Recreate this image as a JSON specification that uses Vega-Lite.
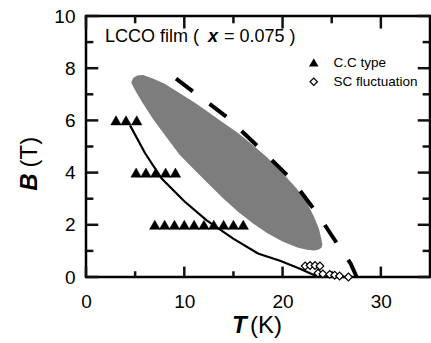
{
  "$schema": "https://vega.github.io/schema/vega-lite/v6.json",
  "width": 344,
  "height": 261,
  "autosize": {"type": "none"},
  "padding": {"left": 86, "top": 16, "right": 1, "bottom": 66},
  "background": "white",
  "config": {
    "view": {"stroke": "black", "strokeWidth": 2.5},
    "font": "Liberation Sans",
    "axis": {"domain": false, "grid": false, "ticks": false, "tickSize": 0, "labelColor": "black", "labelFont": "Liberation Sans", "labelFontSize": 19, "labelFlush": false, "labelOverlap": false, "title": null}
  },
  "datasets": {
    "ellipse": [
      {"T": 4.6, "hi": 7.45, "lo": 7.45},
      {"T": 4.8, "hi": 7.62, "lo": 7.3},
      {"T": 5.2, "hi": 7.72, "lo": 7.02},
      {"T": 5.8, "hi": 7.74, "lo": 6.65},
      {"T": 6.8, "hi": 7.61, "lo": 6.06},
      {"T": 8.0, "hi": 7.4, "lo": 5.45},
      {"T": 9.5, "hi": 7.05, "lo": 4.69},
      {"T": 11.0, "hi": 6.7, "lo": 4.12},
      {"T": 12.5, "hi": 6.3, "lo": 3.55},
      {"T": 14.0, "hi": 5.9, "lo": 3.0},
      {"T": 15.5, "hi": 5.51, "lo": 2.49},
      {"T": 17.0, "hi": 5.05, "lo": 2.05},
      {"T": 18.5, "hi": 4.56, "lo": 1.67},
      {"T": 20.0, "hi": 3.98, "lo": 1.36},
      {"T": 21.5, "hi": 3.36, "lo": 1.13},
      {"T": 22.5, "hi": 2.83, "lo": 1.04},
      {"T": 23.2, "hi": 2.31, "lo": 1.02},
      {"T": 23.7, "hi": 1.85, "lo": 1.05},
      {"T": 23.95, "hi": 1.45, "lo": 1.12},
      {"T": 24.05, "hi": 1.25, "lo": 1.25}
    ],
    "dash": [
      {"T": 9.16, "B": 7.6},
      {"T": 12.54, "B": 6.64},
      {"T": 14.31, "B": 6.13},
      {"T": 17.5, "B": 5.0},
      {"T": 20.93, "B": 3.73},
      {"T": 23.53, "B": 2.43},
      {"T": 25.67, "B": 1.21},
      {"T": 26.93, "B": 0.51},
      {"T": 27.54, "B": 0.0}
    ],
    "solid": [
      {"T": 4.48, "B": 5.81},
      {"T": 6.0, "B": 4.75},
      {"T": 7.7, "B": 3.77},
      {"T": 10.0, "B": 2.9},
      {"T": 12.28, "B": 2.17},
      {"T": 14.98, "B": 1.47},
      {"T": 17.5, "B": 0.9},
      {"T": 19.74, "B": 0.62},
      {"T": 21.77, "B": 0.32},
      {"T": 22.79, "B": 0.14},
      {"T": 23.5, "B": 0.03}
    ],
    "cc": [
      {"T": 3.05, "B": 6, "series": "C.C type"},
      {"T": 4.07, "B": 6, "series": "C.C type"},
      {"T": 5.16, "B": 6, "series": "C.C type"},
      {"T": 5.1, "B": 4, "series": "C.C type"},
      {"T": 6.1, "B": 4, "series": "C.C type"},
      {"T": 7.1, "B": 4, "series": "C.C type"},
      {"T": 8.1, "B": 4, "series": "C.C type"},
      {"T": 9.1, "B": 4, "series": "C.C type"},
      {"T": 7, "B": 2, "series": "C.C type"},
      {"T": 8, "B": 2, "series": "C.C type"},
      {"T": 9, "B": 2, "series": "C.C type"},
      {"T": 10, "B": 2, "series": "C.C type"},
      {"T": 11, "B": 2, "series": "C.C type"},
      {"T": 12, "B": 2, "series": "C.C type"},
      {"T": 13, "B": 2, "series": "C.C type"},
      {"T": 14, "B": 2, "series": "C.C type"},
      {"T": 15, "B": 2, "series": "C.C type"},
      {"T": 16, "B": 2, "series": "C.C type"}
    ],
    "sc": [
      {"T": 22.3, "B": 0.42, "series": "SC fluctuation"},
      {"T": 22.8, "B": 0.44, "series": "SC fluctuation"},
      {"T": 23.3, "B": 0.44, "series": "SC fluctuation"},
      {"T": 23.8, "B": 0.42, "series": "SC fluctuation"},
      {"T": 23.6, "B": 0.15, "series": "SC fluctuation"},
      {"T": 24.1, "B": 0.12, "series": "SC fluctuation"},
      {"T": 24.8, "B": 0.1, "series": "SC fluctuation"},
      {"T": 25.3, "B": 0.07, "series": "SC fluctuation"},
      {"T": 25.8, "B": 0.04, "series": "SC fluctuation"},
      {"T": 26.7, "B": 0.0, "series": "SC fluctuation"}
    ],
    "xMajor": [{"T": 0}, {"T": 10}, {"T": 20}, {"T": 30}],
    "xMinor": [{"T": 5}, {"T": 15}, {"T": 25}],
    "yMajor": [{"B": 0}, {"B": 2}, {"B": 4}, {"B": 6}, {"B": 8}, {"B": 10}],
    "yMinor": [{"B": 1}, {"B": 3}, {"B": 5}, {"B": 7}, {"B": 9}],
    "titleNormal": [
      {"T": 1.93, "B": 9.0, "label": "LCCO film ("},
      {"T": 14.04, "B": 9.0, "label": "= 0.075 )"}
    ],
    "titleX": [{"T": 12.41, "B": 9.0, "label": "x"}],
    "xTitleBold": [{"T": 16.34, "B": -2.16, "label": "T"}],
    "xTitleNormal": [{"T": 16.68, "B": -2.16, "label": "(K)"}],
    "yTitleBold": [{"T": -5.02, "B": 3.97, "label": "B"}],
    "yTitleNormal": [{"T": -5.02, "B": 4.2, "label": "(T)"}]
  },
  "layer": [
    {
      "data": {"name": "ellipse"},
      "mark": {"type": "area", "fill": "#7d7d7d", "stroke": null, "orient": "vertical"},
      "encoding": {
        "x": {"field": "T", "type": "quantitative", "scale": {"domain": [0, 35], "nice": false, "zero": false},
          "axis": {"orient": "bottom", "values": [0, 10, 20, 30], "labelPadding": 15}},
        "y": {"field": "hi", "type": "quantitative", "scale": {"domain": [0, 10], "nice": false, "zero": false},
          "axis": {"orient": "left", "values": [0, 2, 4, 6, 8, 10], "labelPadding": 11}},
        "y2": {"field": "lo"}
      }
    },
    {
      "data": {"name": "xMajor"},
      "mark": {"type": "rule", "color": "#111111", "strokeWidth": 2.5, "clip": false},
      "encoding": {
        "x": {"field": "T", "type": "quantitative", "axis": null},
        "y": {"datum": 0, "type": "quantitative", "axis": null},
        "y2": {"datum": 0.4}
      }
    },
    {
      "data": {"name": "xMajor"},
      "mark": {"type": "rule", "color": "#111111", "strokeWidth": 2.5, "clip": false},
      "encoding": {
        "x": {"field": "T", "type": "quantitative", "axis": null},
        "y": {"datum": 10, "type": "quantitative", "axis": null},
        "y2": {"datum": 9.52}
      }
    },
    {
      "data": {"name": "xMinor"},
      "mark": {"type": "rule", "color": "#111111", "strokeWidth": 2.5, "clip": false},
      "encoding": {
        "x": {"field": "T", "type": "quantitative", "axis": null},
        "y": {"datum": 0, "type": "quantitative", "axis": null},
        "y2": {"datum": 0.22}
      }
    },
    {
      "data": {"name": "xMinor"},
      "mark": {"type": "rule", "color": "#111111", "strokeWidth": 2.5, "clip": false},
      "encoding": {
        "x": {"field": "T", "type": "quantitative", "axis": null},
        "y": {"datum": 10, "type": "quantitative", "axis": null},
        "y2": {"datum": 9.72}
      }
    },
    {
      "data": {"name": "yMajor"},
      "mark": {"type": "rule", "color": "#111111", "strokeWidth": 2.5, "clip": false},
      "encoding": {
        "y": {"field": "B", "type": "quantitative", "axis": null},
        "x": {"datum": 0, "type": "quantitative", "axis": null},
        "x2": {"datum": 1.25}
      }
    },
    {
      "data": {"name": "yMajor"},
      "mark": {"type": "rule", "color": "#111111", "strokeWidth": 2.5, "clip": false},
      "encoding": {
        "y": {"field": "B", "type": "quantitative", "axis": null},
        "x": {"datum": 35, "type": "quantitative", "axis": null},
        "x2": {"datum": 33.75}
      }
    },
    {
      "data": {"name": "yMinor"},
      "mark": {"type": "rule", "color": "#111111", "strokeWidth": 2.5, "clip": false},
      "encoding": {
        "y": {"field": "B", "type": "quantitative", "axis": null},
        "x": {"datum": 0, "type": "quantitative", "axis": null},
        "x2": {"datum": 0.75}
      }
    },
    {
      "data": {"name": "yMinor"},
      "mark": {"type": "rule", "color": "#111111", "strokeWidth": 2.5, "clip": false},
      "encoding": {
        "y": {"field": "B", "type": "quantitative", "axis": null},
        "x": {"datum": 35, "type": "quantitative", "axis": null},
        "x2": {"datum": 34.25}
      }
    },
    {
      "data": {"name": "dash"},
      "mark": {"type": "line", "stroke": "black", "strokeWidth": 4, "strokeDash": [21, 21]},
      "encoding": {
        "x": {"field": "T", "type": "quantitative", "axis": null},
        "y": {"field": "B", "type": "quantitative", "axis": null}
      }
    },
    {
      "data": {"name": "solid"},
      "mark": {"type": "line", "stroke": "black", "strokeWidth": 2.2},
      "encoding": {
        "x": {"field": "T", "type": "quantitative", "axis": null},
        "y": {"field": "B", "type": "quantitative", "axis": null}
      }
    },
    {
      "data": {"name": "cc"},
      "mark": {"type": "point", "size": 110, "strokeWidth": 0.5, "opacity": 1},
      "encoding": {
        "x": {"field": "T", "type": "quantitative", "axis": null},
        "y": {"field": "B", "type": "quantitative", "axis": null},
        "shape": {"field": "series", "type": "nominal", "scale": {"domain": ["C.C type", "SC fluctuation"], "range": ["triangle-up", "diamond"]},
          "legend": {"title": null, "orient": "none", "legendX": 221, "legendY": 40, "padding": 0, "labelFont": "Liberation Sans", "labelFontSize": 13.5, "labelColor": "black", "symbolSize": 55, "symbolStrokeWidth": 1.2, "labelOffset": 13, "rowPadding": 4}},
        "fill": {"field": "series", "type": "nominal", "scale": {"domain": ["C.C type", "SC fluctuation"], "range": ["black", "white"]},
          "legend": {"title": null, "orient": "none", "legendX": 221, "legendY": 40, "padding": 0, "labelFont": "Liberation Sans", "labelFontSize": 13.5, "labelColor": "black", "symbolSize": 55, "symbolStrokeWidth": 1.2, "labelOffset": 13, "rowPadding": 4}},
        "stroke": {"field": "series", "type": "nominal", "scale": {"domain": ["C.C type", "SC fluctuation"], "range": ["black", "black"]},
          "legend": {"title": null, "orient": "none", "legendX": 221, "legendY": 40, "padding": 0, "labelFont": "Liberation Sans", "labelFontSize": 13.5, "labelColor": "black", "symbolSize": 55, "symbolStrokeWidth": 1.2, "labelOffset": 13, "rowPadding": 4}}
      }
    },
    {
      "data": {"name": "sc"},
      "mark": {"type": "point", "size": 60, "strokeWidth": 1.2, "opacity": 1},
      "encoding": {
        "x": {"field": "T", "type": "quantitative", "axis": null},
        "y": {"field": "B", "type": "quantitative", "axis": null},
        "shape": {"field": "series", "type": "nominal"},
        "fill": {"field": "series", "type": "nominal"},
        "stroke": {"field": "series", "type": "nominal"}
      }
    },
    {
      "data": {"name": "titleNormal"},
      "mark": {"type": "text", "align": "left", "baseline": "alphabetic", "fontSize": 18, "font": "Liberation Sans", "color": "black"},
      "encoding": {
        "x": {"field": "T", "type": "quantitative", "axis": null},
        "y": {"field": "B", "type": "quantitative", "axis": null},
        "text": {"field": "label"}
      }
    },
    {
      "data": {"name": "titleX"},
      "mark": {"type": "text", "align": "left", "baseline": "alphabetic", "fontSize": 18, "font": "Liberation Sans", "fontWeight": "bold", "fontStyle": "italic", "color": "black"},
      "encoding": {
        "x": {"field": "T", "type": "quantitative", "axis": null},
        "y": {"field": "B", "type": "quantitative", "axis": null},
        "text": {"field": "label"}
      }
    },
    {
      "data": {"name": "xTitleBold"},
      "mark": {"type": "text", "align": "right", "baseline": "alphabetic", "fontSize": 24, "font": "Liberation Sans", "fontWeight": "bold", "fontStyle": "italic", "color": "black"},
      "encoding": {
        "x": {"field": "T", "type": "quantitative", "axis": null},
        "y": {"field": "B", "type": "quantitative", "axis": null},
        "text": {"field": "label"}
      }
    },
    {
      "data": {"name": "xTitleNormal"},
      "mark": {"type": "text", "align": "left", "baseline": "alphabetic", "fontSize": 24, "font": "Liberation Sans", "color": "black"},
      "encoding": {
        "x": {"field": "T", "type": "quantitative", "axis": null},
        "y": {"field": "B", "type": "quantitative", "axis": null},
        "text": {"field": "label"}
      }
    },
    {
      "data": {"name": "yTitleBold"},
      "mark": {"type": "text", "align": "right", "baseline": "alphabetic", "angle": 270, "fontSize": 24, "font": "Liberation Sans", "fontWeight": "bold", "fontStyle": "italic", "color": "black"},
      "encoding": {
        "x": {"field": "T", "type": "quantitative", "axis": null},
        "y": {"field": "B", "type": "quantitative", "axis": null},
        "text": {"field": "label"}
      }
    },
    {
      "data": {"name": "yTitleNormal"},
      "mark": {"type": "text", "align": "left", "baseline": "alphabetic", "angle": 270, "fontSize": 24, "font": "Liberation Sans", "color": "black"},
      "encoding": {
        "x": {"field": "T", "type": "quantitative", "axis": null},
        "y": {"field": "B", "type": "quantitative", "axis": null},
        "text": {"field": "label"}
      }
    }
  ],
  "resolve": {"axis": {"x": "independent", "y": "independent"}}
}
